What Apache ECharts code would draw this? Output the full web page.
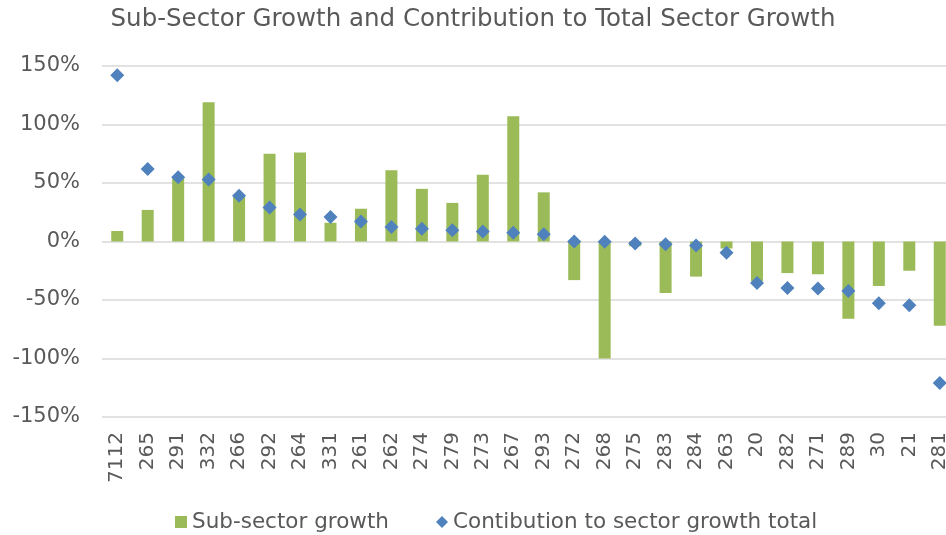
<!DOCTYPE html>
<html>
<head>
<meta charset="utf-8">
<script src="https://cdn.jsdelivr.net/npm/echarts@6/dist/echarts.min.js"></script>
<style>
  html, body { margin: 0; padding: 0; background: #fff; }
  #chart { width: 946px; height: 535px; }
</style>
</head>
<body>
<div id="chart"></div>
<script>
// Sub-sector codes along the x axis
const categories = ['7112','265','291','332','266','292','264','331','261','262','274','279','273','267','293','272','268','275','283','284','263','20','282','271','289','30','21','281'];
// Growth of each sub-sector (%)
const subSectorGrowth = [9, 27, 54, 119, 38, 75, 76, 16, 28, 61, 45, 33, 57, 107, 42, -33, -100, -4, -44, -30, -6, -34, -27, -28, -66, -38, -25, -72];
// Contribution of each sub-sector to total sector growth (%)
const contribution = [142, 62, 55, 53, 39, 29, 23, 21, 17, 12.5, 11, 9.7, 8.5, 7.4, 6.2, 0, -0.3, -1.7, -2.3, -3.4, -9.7, -35.4, -39.7, -40.2, -42.3, -52.8, -54.5, -121];
// Value axis ticks
const yMin = -150, yMax = 150, yStep = 50;

const FONT = 'DejaVu Sans';
const TEXT = '#595959';

const chart = echarts.init(document.getElementById('chart'), null, { renderer: 'canvas' });
chart.setOption({
  animation: false,
  backgroundColor: '#fff',
  title: {
    text: 'Sub-Sector Growth and Contribution to Total Sector Growth',
    left: 'center',
    top: 2,
    textStyle: { fontFamily: FONT, fontSize: 24.5, fontWeight: 'normal', color: TEXT }
  },
  legend: {
    top: 506,
    left: 170,
    itemWidth: 12,
    itemHeight: 12,
    itemGap: 47,
    textStyle: { fontFamily: FONT, fontSize: 21.5, color: TEXT },
    data: [
      { name: 'Sub-sector growth', icon: 'rect' },
      { name: 'Contibution to sector growth total', icon: 'diamond' }
    ]
  },
  // the plot runs a little past the right edge of the canvas
  grid: { left: 102, width: 853, top: 66, bottom: 118, outerBoundsMode: 'none', containLabel: false },
  xAxis: {
    type: 'category',
    data: categories,
    axisLine: { show: false, onZero: false },
    axisTick: { show: false },
    axisLabel: {
      rotate: 90,
      margin: 15,
      interval: 0,
      fontFamily: FONT,
      fontSize: 20,
      color: TEXT
    }
  },
  yAxis: {
    type: 'value',
    min: yMin,
    max: yMax,
    interval: yStep,
    axisLine: { show: false },
    axisTick: { show: false },
    axisLabel: {
      formatter: '{value}%',
      margin: 22,
      fontFamily: FONT,
      fontSize: 21,
      color: TEXT
    },
    splitLine: { lineStyle: { color: '#d9d9d9', width: 1.5 } }
  },
  series: [
    {
      name: 'Sub-sector growth',
      type: 'bar',
      data: subSectorGrowth,
      barWidth: 12,
      itemStyle: { color: '#9bbb59' }
    },
    {
      name: 'Contibution to sector growth total',
      type: 'scatter',
      data: contribution,
      symbol: 'diamond',
      symbolSize: 14,
      itemStyle: { color: '#4f81bd', opacity: 1 },
      z: 3
    }
  ]
});
</script>
</body>
</html>
